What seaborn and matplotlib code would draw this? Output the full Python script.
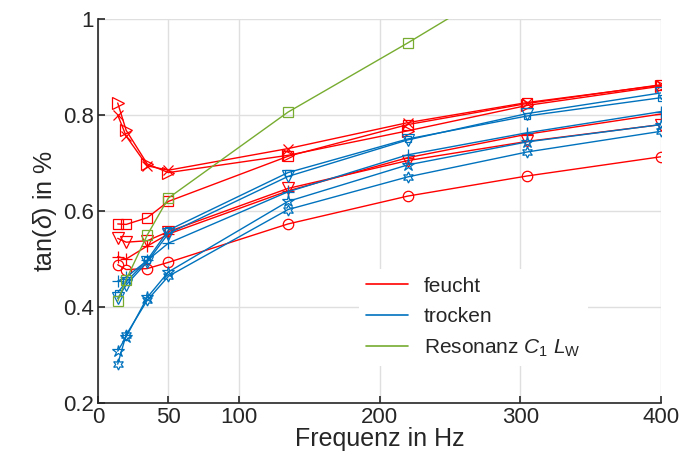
import numpy as np
import pandas as pd
import matplotlib
matplotlib.use("Agg")
import matplotlib.pyplot as plt
from matplotlib.lines import Line2D
import seaborn as sns

# measuring frequencies (Hz)
freq = [14, 20, 35, 50, 135, 220, 305, 400]

# feucht (wet) samples
feucht_o = [0.488, 0.478, 0.480, 0.493, 0.573, 0.631, 0.673, 0.713]
feucht_sq = [0.573, 0.572, 0.586, 0.620, 0.714, 0.780, 0.824, 0.863]
feucht_tr = [0.825, 0.768, 0.698, 0.680, 0.716, 0.767, 0.820, 0.860]
feucht_x = [0.800, 0.756, 0.694, 0.685, 0.730, 0.784, 0.826, 0.862]
feucht_v = [0.543, 0.535, 0.538, 0.557, 0.647, 0.705, 0.745, 0.780]
feucht_p = [0.505, 0.500, 0.527, 0.552, 0.642, 0.711, 0.760, 0.802]

# trocken (dry) samples
trocken_v = [0.418, 0.446, 0.494, 0.553, 0.672, 0.748, 0.803, 0.846]
trocken_p = [0.454, 0.462, 0.497, 0.533, 0.640, 0.717, 0.763, 0.807]
trocken_sq = [0.430, 0.452, 0.498, 0.560, 0.680, 0.750, 0.798, 0.836]
trocken_st = [0.308, 0.338, 0.420, 0.473, 0.620, 0.696, 0.744, 0.780]
trocken_hx = [0.281, 0.342, 0.414, 0.464, 0.603, 0.671, 0.723, 0.766]

# resonance C1 LW
resonanz = [0.412, 0.457, 0.550, 0.627, 0.806, 0.950, 1.100, 1.270]

red = "#FF0000"
blue = "#0072BD"
green = "#77AC30"
hexagram = (6, 1, 0)

series = [
    (feucht_o, red, "o", 7.5),
    (feucht_sq, red, "s", 6.5),
    (feucht_tr, red, ">", 8),
    (feucht_x, red, "x", 6.5),
    (feucht_v, red, "v", 8),
    (feucht_p, red, "+", 9),
    (trocken_v, blue, "v", 8),
    (trocken_p, blue, "+", 9),
    (trocken_sq, blue, "s", 5),
    (trocken_st, blue, "*", 9),
    (trocken_hx, blue, hexagram, 8),
    (resonanz, green, "s", 6.5),
]

sns.set_theme(style="whitegrid", rc={
    "axes.edgecolor": "#262626",
    "grid.color": "#dfdfdf",
    "grid.linewidth": 1.0,
})
plt.rcParams["font.family"] = ["Liberation Sans", "DejaVu Sans"]
plt.rcParams["mathtext.fontset"] = "custom"
plt.rcParams["mathtext.rm"] = "Liberation Sans"
plt.rcParams["mathtext.it"] = "Liberation Sans:italic"

fig = plt.figure(figsize=(6.83, 4.63), dpi=100)
ax = fig.add_axes([0.1435, 0.1296, 0.8243, 0.8294])

for vals, col, mk, ms in series:
    df = pd.DataFrame({"f": freq, "tan": vals})
    sns.lineplot(data=df, x="f", y="tan", color=col, marker=mk, ms=ms,
                 mfc="none", mec=col, mew=0.9, lw=1.0, ax=ax)

ax.set_xlim(0, 400)
ax.set_ylim(0.2, 1.0)
ax.set_xticks([0, 50, 100, 200, 300, 400])
ax.set_yticks([0.2, 0.4, 0.6, 0.8, 1.0])
ax.set_yticklabels(["0.2", "0.4", "0.6", "0.8", "1"])
ax.tick_params(direction="in", length=5, width=1.2, colors="#262626",
               labelsize=16, pad=3, bottom=True, left=True)
for side in ["top", "right"]:
    ax.spines[side].set_visible(False)
for side in ["left", "bottom"]:
    ax.spines[side].set_linewidth(1.2)
ax.set_facecolor("white")

ax.set_xlabel("Frequenz in Hz", fontsize=18, color="#262626", labelpad=-1)
ax.set_ylabel(r"tan($\delta$) in %", fontsize=18, color="#262626", labelpad=3)

handles = [Line2D([], [], color=red, lw=1.2),
           Line2D([], [], color=blue, lw=1.2),
           Line2D([], [], color=green, lw=1.2)]
labels = ["feucht", "trocken", r"Resonanz $C_1$ $L_\mathrm{W}$"]
leg = ax.legend(handles, labels, loc="upper left", bbox_to_anchor=(0.445, 0.375),
                fontsize=15, frameon=True, facecolor="white", edgecolor="white",
                framealpha=1, handlelength=2.0, handletextpad=0.75,
                labelspacing=0.55, borderpad=0.35)
leg.get_frame().set_linewidth(0)

fig.savefig("out.png", dpi=100, facecolor="white")
